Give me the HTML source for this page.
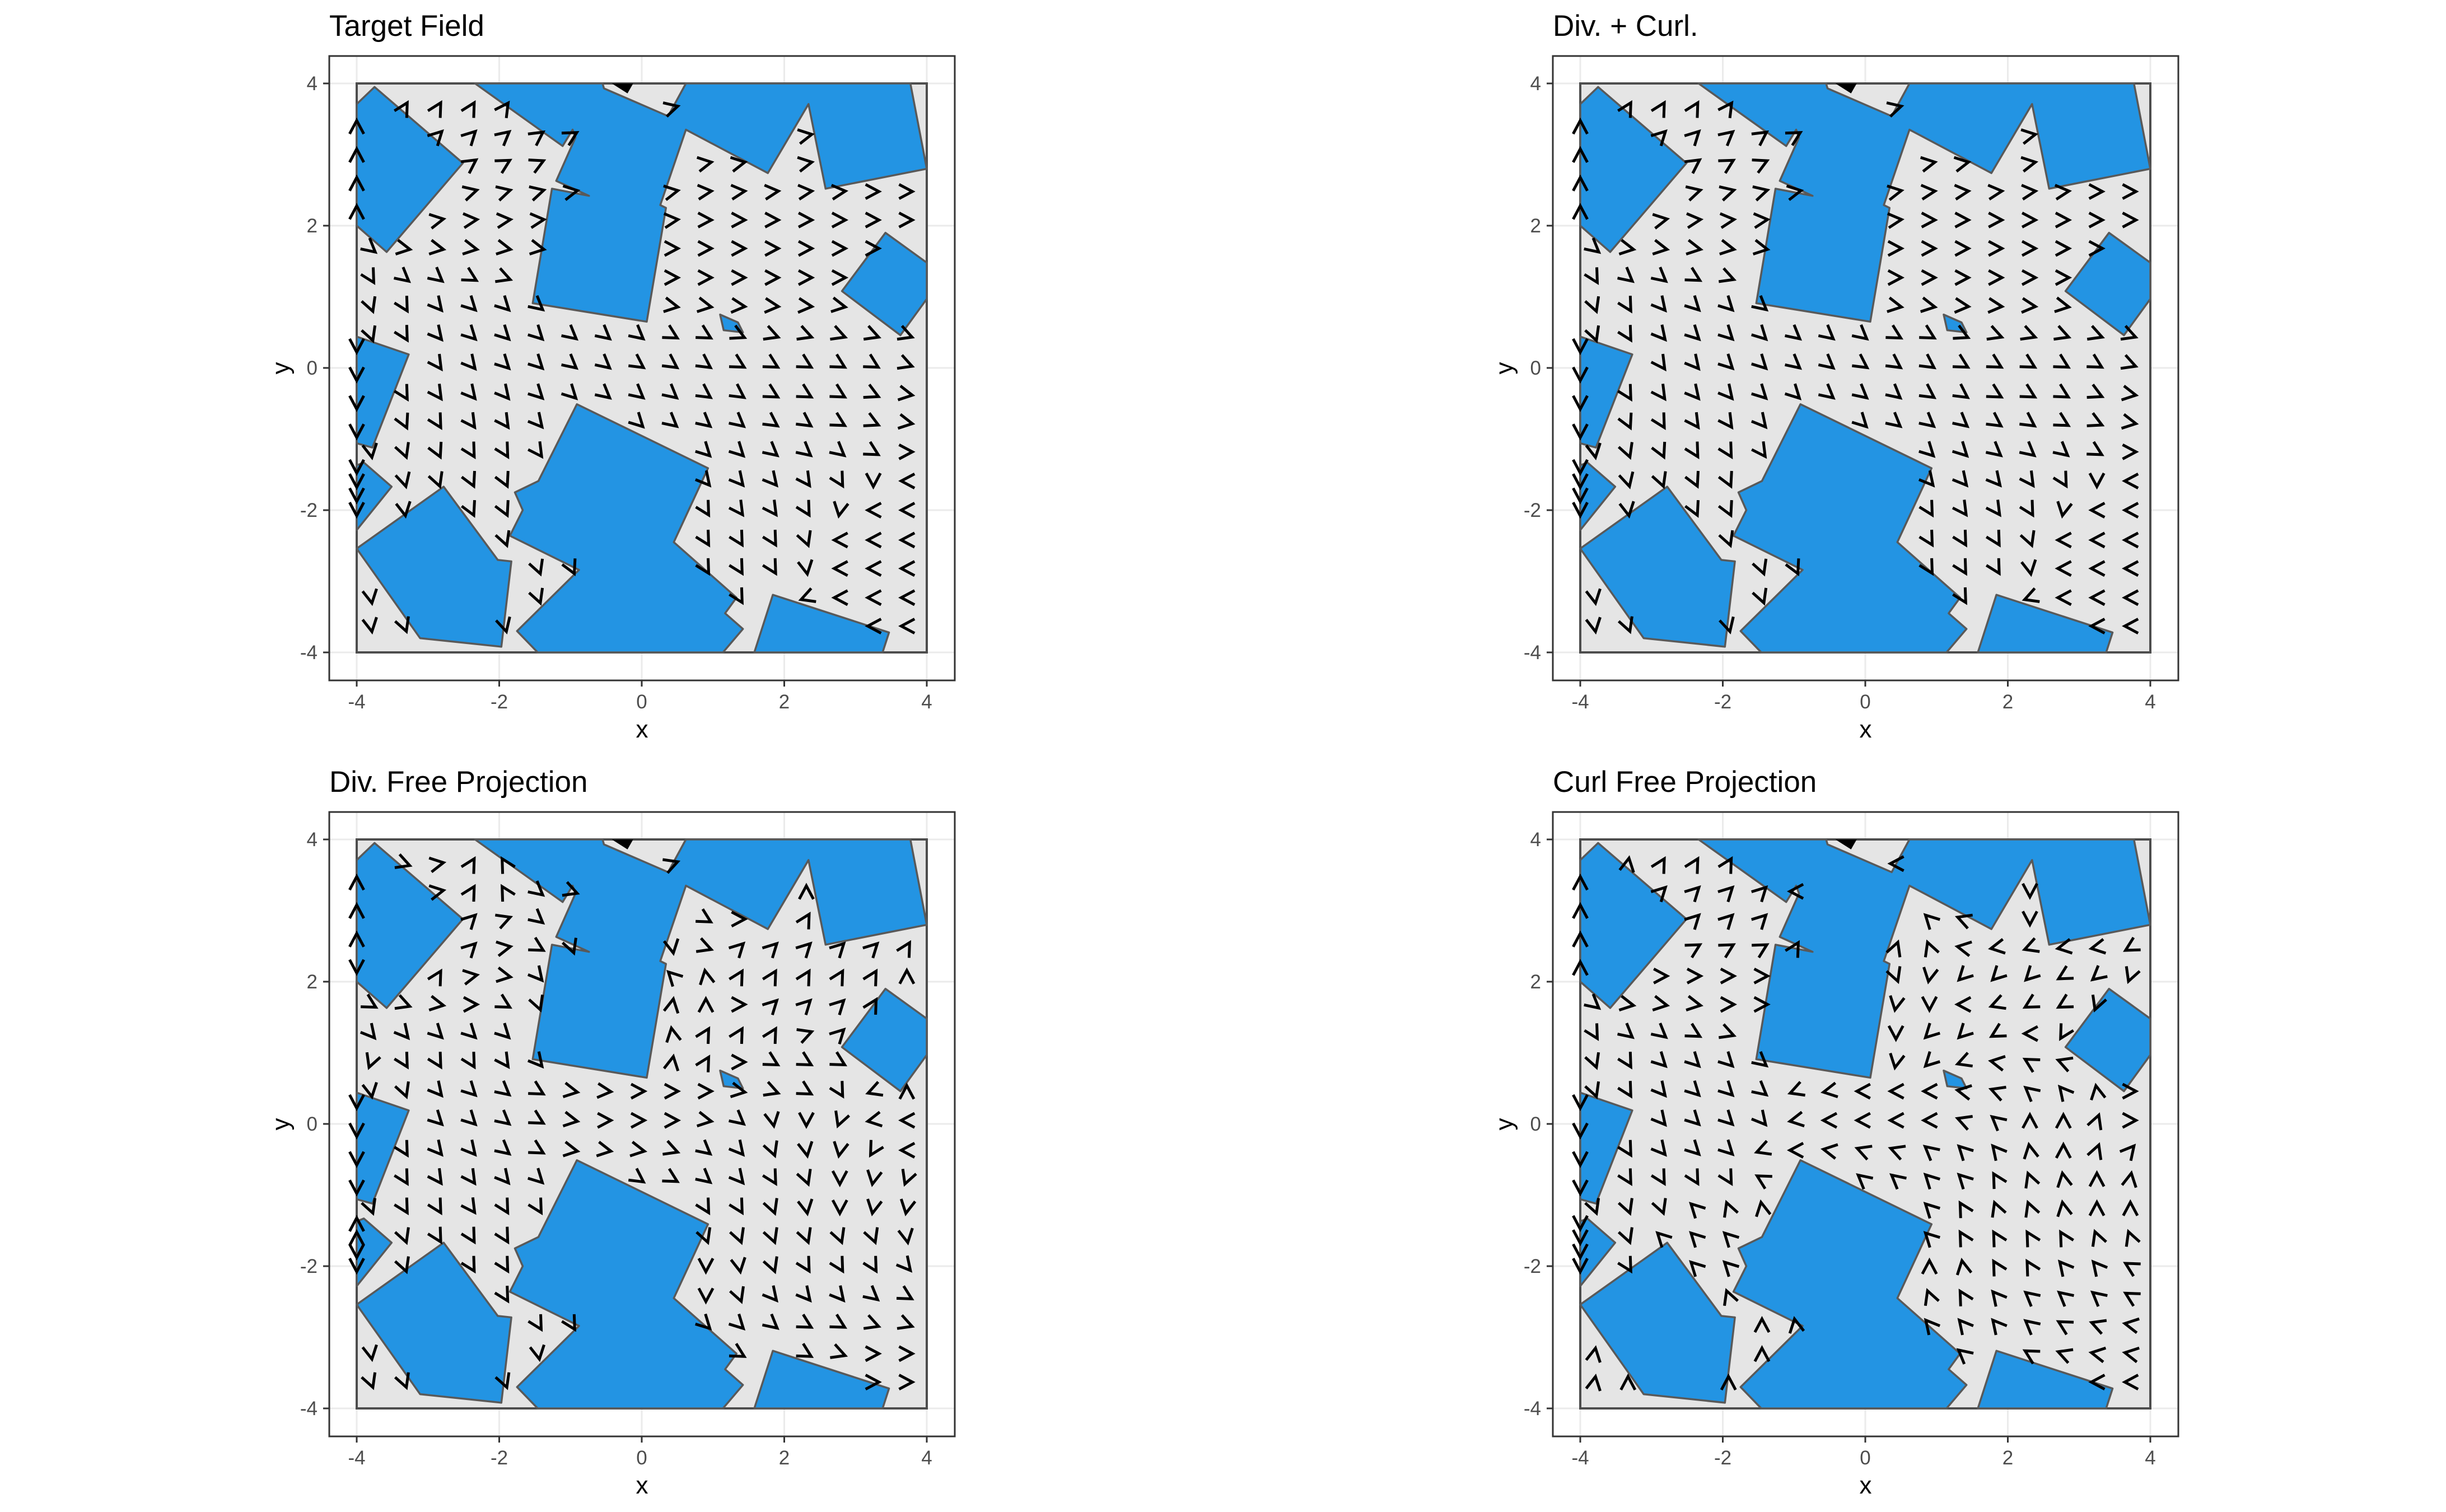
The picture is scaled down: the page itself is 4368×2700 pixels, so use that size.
<!DOCTYPE html>
<html><head><meta charset="utf-8"><style>
html,body{margin:0;padding:0;background:#fff;}
svg{display:block;font-family:"Liberation Sans",sans-serif;}
</style></head><body>
<svg id="root" width="4368" height="2700" viewBox="0 0 4368 2700" xmlns="http://www.w3.org/2000/svg"></svg>
<script>
// ---------- data ----------
const panelTitles = ["Target Field", "Div. + Curl.", "Div. Free Projection", "Curl Free Projection"];
const tickValues = [-4, -2, 0, 2, 4];
const tickLabels = ["-4", "-2", "0", "2", "4"];
const gridX = [-3.8,-3.33,-2.86,-2.39,-1.92,-1.45,-0.98,-0.51,-0.04,0.43,0.9,1.37,1.84,2.31,2.78,3.25,3.72];
const gridY = [3.66,3.27,2.88,2.48,2.08,1.68,1.27,0.87,0.46,0.05,-0.37,-0.77,-1.18,-1.59,-2.0,-2.42,-2.82,-3.23,-3.63];
const edgeY = [3.4,3.0,2.6,2.2,0.3,-0.1,-0.5,-0.9,-1.4,-1.6,-1.8,-2.0];
const edgeAnglesTarget = [90,90,90,90,-90,-90,-90,-90,-90,-90,-90,-90];
const edgeAnglesDivFree = [90,90,90,-90,-90,-90,-90,-90,90,90,-90,-90];
const edgeAnglesCurlFree = [90,90,90,90,-90,-90,-90,-90,-90,-90,-90,-90];

const obstacleA = [[-2.34,4],[-0.55,4],[-0.53,3.93],[0.37,3.54],[0.62,4],[3.77,4],[4,2.80],[2.58,2.52],[2.34,3.71],[1.77,2.74],[0.62,3.35],[0.26,2.29],[0.34,2.25],[0.07,0.65],[-1.53,0.91],[-1.26,2.52],[-0.74,2.42],[-1.2,2.63],[-0.93,3.24],[-0.97,3.35],[-1.11,3.12]];
const obstacleB = [[-4,3.71],[-3.75,3.95],[-2.51,2.88],[-3.58,1.63],[-4,2.0]];
const obstacleC = [[3.42,1.90],[4,1.48],[4,0.97],[3.63,0.46],[2.81,1.08]];
const obstacleD = [[-4,0.44],[-3.27,0.19],[-3.78,-1.12],[-4,-1.06]];
const obstacleE = [[-4,-1.37],[-3.9,-1.33],[-3.51,-1.67],[-4,-2.28]];
const obstacleF = [[-4,-2.54],[-2.78,-1.67],[-2.02,-2.70],[-1.83,-2.72],[-1.97,-3.92],[-3.11,-3.80]];
const obstacleG = [[-0.91,-0.51],[0.93,-1.41],[0.45,-2.45],[1.33,-3.23],[1.17,-3.45],[1.42,-3.67],[1.14,-4],[-1.46,-4],[-1.75,-3.70],[-0.88,-2.84],[-1.85,-2.36],[-1.67,-2.0],[-1.78,-1.75],[-1.45,-1.59]];
const obstacleH = [[1.84,-3.19],[3.47,-3.72],[3.38,-4],[1.58,-4]];
const obstacleI = [[1.1,0.75],[1.35,0.64],[1.42,0.5],[1.15,0.53]];
const obstacles = [obstacleA, obstacleB, obstacleC, obstacleD, obstacleE, obstacleF, obstacleG, obstacleH, obstacleI];
const blobTop = [[-0.42,4],[-0.12,4],[-0.2,3.86]];

const targetAngles = [
[90,60,60,60,55,50,45,30,20,15,15,15,15,15,10,10,-10],
[90,50,45,45,40,35,30,25,20,15,15,10,10,10,5,-10,-20],
[90,40,40,35,30,25,20,15,15,10,10,10,10,10,5,0,0],
[90,25,20,15,15,15,10,10,10,10,5,5,5,5,5,0,0],
[-20,20,10,5,5,5,5,5,5,5,0,0,0,0,0,0,0],
[-40,-10,-10,-10,-10,-10,-5,-5,0,0,0,0,0,0,0,0,0],
[-60,-40,-40,-30,-20,-15,-10,-10,-5,0,0,0,0,0,0,0,0],
[-70,-60,-50,-45,-45,-40,-30,-20,-10,-10,-10,-5,-5,-5,-10,-10,-10],
[-70,-60,-50,-45,-45,-45,-40,-40,-40,-30,-30,-25,-20,-20,-20,-20,-20],
[-80,-60,-55,-50,-45,-45,-40,-40,-35,-35,-35,-30,-30,-30,-30,-30,-20],
[-80,-60,-55,-50,-50,-45,-45,-40,-40,-40,-35,-35,-30,-30,-30,-25,-10],
[-80,-65,-60,-55,-55,-50,-50,-45,-45,-40,-40,-40,-35,-35,-30,-25,-10],
[-80,-70,-65,-60,-60,-55,-55,-50,-50,-45,-45,-45,-40,-40,-40,-30,0],
[-90,-75,-70,-65,-65,-60,-60,-55,-55,-50,-50,-50,-50,-55,-60,-90,180],
[-90,-80,-70,-65,-65,-60,-60,-60,-60,-60,-60,-55,-55,-60,-100,180,180],
[-90,-80,-70,-70,-70,-65,-65,-60,-60,-60,-60,-60,-60,-70,180,180,180],
[-80,-70,-70,-70,-70,-70,-65,-60,-60,-60,-60,-60,-60,-80,180,180,180],
[-80,-70,-70,-70,-70,-70,-65,-65,-60,-60,-60,-60,-60,200,180,180,180],
[-80,-70,-70,-70,-75,-75,-80,-80,-80,-80,-80,-70,-60,180,180,180,180]];

const divFreeAngles = [
[90,-20,10,60,120,120,100,90,60,20,10,10,10,20,40,70,90],
[90,-40,10,60,120,-40,-20,0,20,-40,0,60,60,90,80,90,90],
[90,-20,0,45,20,-40,-60,-80,-90,-100,-30,0,40,60,70,80,90],
[90,40,60,45,10,-30,-70,-80,-80,-80,-20,45,45,45,45,45,60],
[90,60,60,10,-10,-50,-80,-80,-80,135,100,60,60,60,60,60,90],
[-30,-20,-10,0,-30,-70,-80,-80,-80,80,90,0,45,45,45,60,90],
[-50,-50,-45,-45,-45,-50,-60,-60,-60,100,60,60,60,20,45,60,90],
[-110,-60,-60,-60,-55,-50,-40,-30,-20,80,60,0,-30,-30,-30,120,90],
[-80,-70,-50,-45,-40,-30,-10,-5,0,0,0,-10,-20,-30,-60,200,90],
[-70,-60,-45,-45,-40,-30,-10,0,0,0,-10,-40,-80,-90,-110,190,180],
[-70,-60,-50,-50,-40,-30,-10,-10,-10,-20,-40,-50,-70,-80,-100,-120,180],
[-70,-60,-55,-55,-50,-45,-40,-40,-35,-30,-40,-50,-60,-70,-90,-100,-110],
[-70,-60,-60,-55,-60,-60,-60,-60,-60,-60,-60,-60,-70,-80,-90,-100,-100],
[-80,-70,-60,-60,-60,-60,-70,-70,-70,-70,-70,-70,-70,-70,-70,-70,-80],
[-80,-70,-60,-60,-60,-60,-70,-80,-90,-90,-90,-80,-70,-60,-60,-60,-50],
[-80,-70,-60,-60,-60,-60,-60,-70,-80,-90,-90,-70,-50,-50,-50,-40,-30],
[-80,-70,-60,-60,-60,-60,-60,-60,-60,-50,-45,-45,-40,-30,-30,-20,-20],
[-80,-70,-70,-70,-70,-80,-60,-50,-40,-40,-40,-30,-30,-30,-20,0,0],
[-70,-70,-70,-70,-70,0,0,0,0,0,0,0,0,0,0,0,0]];

const curlFreeAngles = [
[90,80,60,60,60,60,180,180,180,180,180,180,180,180,180,-90,-90],
[90,60,45,45,45,45,180,180,180,135,180,180,200,-90,-90,-90,-90],
[90,45,45,45,45,45,60,80,80,80,135,160,170,-90,-100,-100,-100],
[90,30,10,30,30,30,60,70,70,70,110,170,190,200,190,190,210],
[-20,20,0,0,0,0,-10,-40,-70,-70,-100,225,225,225,210,220,-110],
[-40,-10,-10,-10,0,0,-10,-60,-90,-100,-90,180,200,210,210,-110,-110],
[-60,-40,-40,-30,-20,-10,-20,-60,-90,-90,225,225,210,180,-120,-110,-100],
[-70,-60,-45,-45,-45,-40,-30,-60,-100,-100,225,200,170,150,160,180,-100],
[-70,-60,-50,-45,-45,-40,200,190,180,180,180,170,160,140,130,100,0],
[-70,-60,-50,-45,-45,-50,190,180,180,180,180,160,140,90,90,70,0],
[-70,-60,-50,-45,-45,200,180,170,160,160,140,135,130,100,90,70,50],
[-70,-60,-60,-60,-60,150,140,140,140,140,135,135,120,110,100,90,80],
[-70,-70,-70,135,110,100,130,135,135,135,135,120,110,110,100,90,90],
[-80,-70,135,135,135,130,130,130,130,135,135,120,120,120,120,110,110],
[-80,-60,135,135,135,120,110,100,100,90,90,100,120,120,130,130,150],
[-80,-60,120,110,110,100,100,100,100,100,110,120,130,140,140,140,150],
[-80,80,90,90,90,90,100,110,120,120,130,130,130,140,150,160,170],
[80,80,90,90,90,90,100,110,120,130,140,140,140,150,160,170,170],
[80,90,90,90,90,180,180,180,180,180,180,180,180,180,180,180,180]];

const panelFields = [targetAngles, targetAngles, divFreeAngles, curlFreeAngles];
const panelEdges = [edgeAnglesTarget, edgeAnglesTarget, edgeAnglesDivFree, edgeAnglesCurlFree];

// ---------- drawing ----------
const NS = "http://www.w3.org/2000/svg";
const root = document.getElementById("root");
function mk(tag, attrs, parent){ const e=document.createElementNS(NS,tag); for(const k in attrs) e.setAttribute(k,attrs[k]); (parent||root).appendChild(e); return e; }
function inside(pt, poly){ let c=false; for(let i=0,j=poly.length-1;i<poly.length;j=i++){ const xi=poly[i][0],yi=poly[i][1],xj=poly[j][0],yj=poly[j][1]; if(((yi>pt[1])!==(yj>pt[1])) && (pt[0] < (xj-xi)*(pt[1]-yi)/(yj-yi)+xi)) c=!c; } return c; }

const offX=[0,2185,0,2185], offY=[0,0,1350,1350];
panelTitles.forEach((title,p)=>{
  const ox=offX[p], oy=offY[p];
  const X0=637+ox, X1=1655+ox, Y0=149+oy, Y1=1165+oy;
  const FX0=588+ox, FX1=1705+ox, FY0=100+oy, FY1=1215+oy;
  const sx = v => X0 + (v+4)/8*(X1-X0);
  const sy = v => Y1 - (v+4)/8*(Y1-Y0);
  const g = mk("g",{});
  
  
  const t = mk("text",{x:FX0,y:64+oy,"font-size":53,fill:"#000"},g);
  t.textContent = title;
  
  
  tickValues.forEach(v=>{
    mk("line",{x1:sx(v),x2:sx(v),y1:FY0,y2:FY1,stroke:"#ebebeb","stroke-width":3},g);
    mk("line",{y1:sy(v),y2:sy(v),x1:FX0,x2:FX1,stroke:"#ebebeb","stroke-width":3},g);
  });
  const frame = mk("rect",{x:FX0,y:FY0,width:FX1-FX0,height:FY1-FY0,fill:"none",stroke:"#333","stroke-width":3},g);
  
  
  const dom = mk("rect",{x:X0,y:Y0,width:X1-X0,height:Y1-Y0,fill:"#e5e5e5",stroke:"#4d4d4d","stroke-width":4},g);
  
  
  obstacles.forEach(poly=>{
    const pg = mk("polygon",{points:poly.map(q=>sx(q[0])+","+sy(q[1])).join(" "),fill:"#2394e3",stroke:"#595959","stroke-width":3.5,"stroke-linejoin":"round"},g);
    
    
  });
  const bl = mk("polygon",{points:blobTop.map(q=>sx(q[0])+","+sy(q[1])).join(" "),fill:"#000"},g);
  
  
  function arrow(xv,yv,a){
    const rad=a*Math.PI/180, dx=Math.cos(rad), dy=-Math.sin(rad);
    const cx=sx(xv), cy=sy(yv);
    const tx=cx+dx*10, ty=cy+dy*10, L=27, h=28*Math.PI/180;
    const b=Math.atan2(-dy,-dx);
    const p1=[tx+L*Math.cos(b+h), ty+L*Math.sin(b+h)], p2=[tx+L*Math.cos(b-h), ty+L*Math.sin(b-h)];
    const ar = mk("polyline",{points:p1.join(",")+" "+tx+","+ty+" "+p2.join(","),fill:"none",stroke:"#000","stroke-width":5},g);
    
    
  }
  const field = panelFields[p];
  gridY.forEach((yv,r)=>{
    gridX.forEach((xv,c)=>{
      const a = field[r][c];
      if(a===null||a===undefined) return;
      if(obstacles.some(poly=>inside([xv,yv],poly))) return;
      arrow(xv,yv,a);
    });
  });
  panelEdges[p].forEach((a,i)=>arrow(-4,edgeY[i],a));
  tickValues.forEach((v,i)=>{
    mk("line",{x1:sx(v),x2:sx(v),y1:FY1,y2:FY1+11,stroke:"#333","stroke-width":3},g);
    mk("line",{x1:FX0-11,x2:FX0,y1:sy(v),y2:sy(v),stroke:"#333","stroke-width":3},g);
    const xl = mk("text",{x:sx(v),y:FY1+50,"font-size":35,fill:"#4d4d4d","text-anchor":"middle"},g);
    xl.textContent = tickLabels[i];
    
    
    const yl = mk("text",{x:FX0-21,y:sy(v)+12,"font-size":35,fill:"#4d4d4d","text-anchor":"end"},g);
    yl.textContent = tickLabels[i];
    
    
  });
  const xt = mk("text",{x:(FX0+FX1)/2,y:FY1+102,"font-size":44,fill:"#000","text-anchor":"middle"},g);
  xt.textContent="x";
  
  
  const yt = mk("text",{x:0,y:0,"font-size":44,fill:"#000","text-anchor":"middle",transform:"translate("+(516+ox)+","+((FY0+FY1)/2)+") rotate(-90)"},g);
  yt.textContent="y";
  
  
});
</script>
</body></html>
